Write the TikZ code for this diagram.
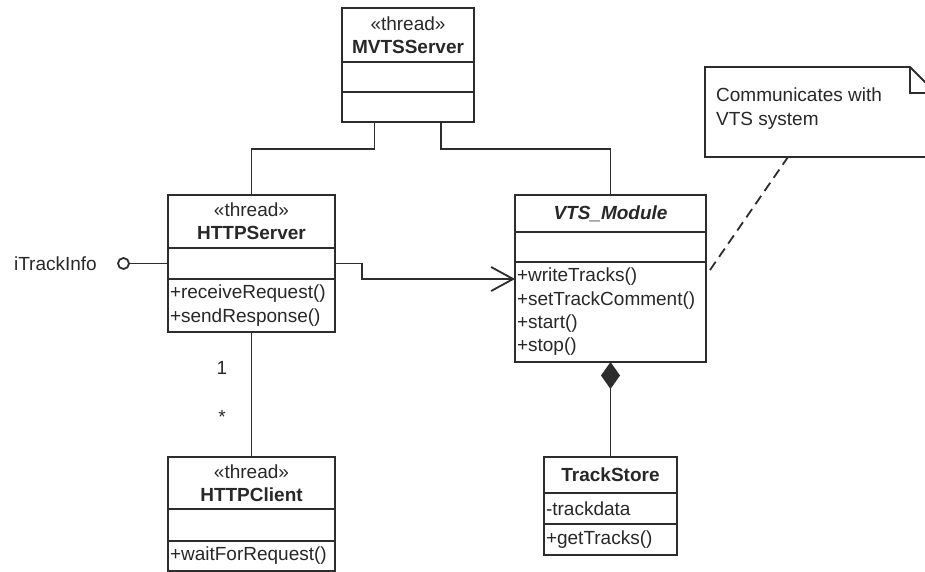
\documentclass[tikz,border=0pt]{standalone}
\usepackage{fontspec}
\setmainfont{Liberation Sans}
\usetikzlibrary{arrows.meta,calc}
\definecolor{lc}{RGB}{45,45,45}
\definecolor{tc}{RGB}{40,40,40}
\tikzset{
  cpart/.style={draw=lc, line width=1.8pt, rectangle, inner xsep=2pt, inner ysep=0pt,
    outer sep=0pt, anchor=north west, text=tc, font=\fontsize{19}{23.3}\selectfont},
  namepart/.style={cpart, align=center},
  listpart/.style={cpart, align=left},
  wire/.style={draw=lc, line width=1.8pt},
  assoc/.style={wire, -{Straight Barb[length=22pt,width=24pt,line width=1.8pt]}},
  compo/.style={wire, -{Diamond[length=27pt,width=19pt]}},
  notelink/.style={draw=lc, line width=1.8pt, dash pattern=on 10pt off 6pt},
  lbl/.style={text=tc, inner sep=0pt, font=\fontsize{19}{23.3}\selectfont},
}
\begin{document}
\begin{tikzpicture}[x=1pt,y=-1pt]
\useasboundingbox (0,0) rectangle (925,572);
\clip (0,0) rectangle (925,572);
\fill[white] (0,0) rectangle (925,572);

% MVTSServer
\node[namepart, text width=128pt, minimum height=54pt] (mv-name) at (342,8) {«thread»\\\textbf{MVTSServer}};
\node[listpart, text width=128pt, minimum height=30pt] (mv-attr) at (342,62) {};
\node[listpart, text width=128pt, minimum height=30pt] (mv-ops) at (342,92) {};

% HTTPServer
\node[namepart, text width=163pt, minimum height=53pt] (hs-name) at (168,195) {«thread»\\\textbf{HTTPServer}};
\node[listpart, text width=163pt, minimum height=31pt] (hs-attr) at (168,248) {};
\node[listpart, text width=163pt, minimum height=53pt] (hs-ops) at (168,279) {+receiveRequest()\\+sendResponse()};

% VTS_Module
\node[namepart, text width=187pt, minimum height=37pt] (vts-name) at (515,195) {\textbf{\textit{VTS\_Module}}};
\node[listpart, text width=187pt, minimum height=30pt] (vts-attr) at (515,232) {};
\node[listpart, text width=187pt, minimum height=100pt] (vts-ops) at (515,262) {+writeTracks()\\+setTrackComment()\\+start()\\+stop()};

% HTTPClient
\node[namepart, text width=163pt, minimum height=52pt] (hc-name) at (168,457) {«thread»\\\textbf{HTTPClient}};
\node[listpart, text width=163pt, minimum height=32pt] (hc-attr) at (168,509) {};
\node[listpart, text width=163pt, minimum height=30pt] (hc-ops) at (168,541) {+waitForRequest()};

% TrackStore
\node[namepart, text width=129pt, minimum height=36pt] (ts-name) at (544,457) {\textbf{TrackStore}};
\node[listpart, text width=129pt, minimum height=31pt] (ts-attr) at (544,493) {-trackdata};
\node[listpart, text width=129pt, minimum height=31pt] (ts-ops) at (544,524) {+getTracks()};

% MVTSServer associations
\draw[wire] ($(mv-ops.south west)+(32.5,0)$) -- ++(0,27) -| (hs-name.north);
\draw[wire] ($(mv-ops.south west)+(99,0)$) -- ++(0,27) -| (vts-name.north);

% provided interface
\node[circle, draw=lc, line width=1.8pt, minimum size=11pt, inner sep=0pt] (lolli) at (123.5,263.5) {};
\draw[wire] (lolli.east) -- (hs-attr.west);
\node[lbl, anchor=east] (itf) at (97,263.5) {iTrackInfo};

% HTTPServer uses VTS_Module
\draw[assoc] (hs-attr.east) -- ++(27,0) |- ($(vts-ops.north west)+(0,17)$);

% HTTPServer to HTTPClient
\draw[wire] (hs-ops.south) -- (hc-name.north);
\node[lbl] (mult-one) at (222,368) {1};
\node[lbl] (mult-many) at (222,417) {*};

% composition
\draw[compo] (ts-name.north) -- (vts-ops.south);

% note
\coordinate (n-tl) at (705,67);
\coordinate (n-fold) at (910,67);
\coordinate (n-fr) at (936,93);
\coordinate (n-br) at (936,157);
\coordinate (n-bl) at (705,157);
\fill[white] (n-tl) -- (n-fold) -- (n-fr) -- (n-br) -- (n-bl) -- cycle;
\draw[wire, line join=miter] (n-tl) -- (n-fold) -- (n-fr) -- (n-br) -- (n-bl) -- cycle;
\draw[wire] (n-fold) |- (n-fr);
\node[lbl, anchor=north west, align=left] (note-text) at (716,88) {Communicates with\\VTS system};
\coordinate (n-link) at (788,157);
\draw[notelink] ($(vts-ops.north east)+(4,8)$) -- (n-link);
\end{tikzpicture}
\end{document}
